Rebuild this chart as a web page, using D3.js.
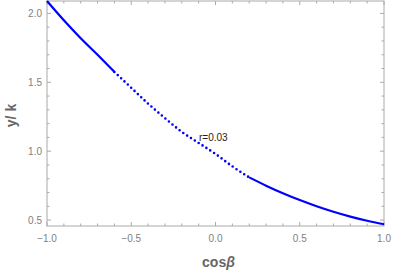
<!DOCTYPE html>
<html>
<head>
<meta charset="utf-8">
<script src="https://cdn.jsdelivr.net/npm/d3@7"></script>
<style>
  body { margin: 0; background: #fff; }
  text { font-family: "Liberation Sans", Arial, sans-serif; }
</style>
</head>
<body>
<div id="chart"></div>
<script>
const width = 394;
const height = 273;

// values
const cosBeta = [-1.0, -0.9, -0.8, -0.7, -0.6, -0.5, -0.4, -0.3, -0.2, -0.1, 0.0,
                 0.1, 0.2, 0.3, 0.4, 0.5, 0.6, 0.7, 0.8, 0.9, 1.0];
const yOverK = [2.09, 1.95, 1.82, 1.70, 1.575, 1.46, 1.345, 1.24, 1.14, 1.06, 0.98,
                0.89, 0.81, 0.75, 0.695, 0.645, 0.60, 0.56, 0.525, 0.495, 0.47];
const dottedFrom = -0.6;
const dottedTo = 0.2;
const xTicks = [-1.0, -0.5, 0.0, 0.5, 1.0];
const yTicks = [0.5, 1.0, 1.5, 2.0];
const label = "r=0.03";

const margin = {left: 47, right: 10, top: 1, bottom: 47};

const x = d3.scaleLinear().domain([-1, 1]).range([margin.left, width - margin.right]);
const y = d3.scaleLinear().domain([0.457, 2.09]).range([height - margin.bottom, margin.top]);

const svg = d3.select("#chart").append("svg")
  .attr("width", width)
  .attr("height", height);

const pts = cosBeta.map((c, i) => [c, yOverK[i]]);
const line = d3.line().x(d => x(d[0])).y(d => y(d[1])).curve(d3.curveMonotoneX);

const eps = 1e-9;
const seg1 = pts.filter(d => d[0] <= dottedFrom + eps);
const seg2 = pts.filter(d => d[0] >= dottedFrom - eps && d[0] <= dottedTo + eps);
const seg3 = pts.filter(d => d[0] >= dottedTo - eps);

const minorX = d3.range(-10, 11).map(i => i / 10);
const minorY = d3.range(5, 21).map(i => i / 10);
const isMajor = (v, arr) => arr.some(t => Math.abs(t - v) < 1e-9);

const x0 = x.range()[0], x1 = x.range()[1];
const y0 = y.range()[0], y1 = y.range()[1];
const frameColor = "#aaa";

// ticks (inward, on all sides)
const tg = svg.append("g").attr("stroke", frameColor).attr("stroke-width", 1);
minorX.forEach(v => {
  const len = isMajor(v, xTicks) ? 4 : 2.5;
  tg.append("line").attr("x1", x(v)).attr("x2", x(v)).attr("y1", y0).attr("y2", y0 - len);
  tg.append("line").attr("x1", x(v)).attr("x2", x(v)).attr("y1", y1).attr("y2", y1 + len);
});
minorY.forEach(v => {
  const len = isMajor(v, yTicks) ? 4 : 2.5;
  tg.append("line").attr("y1", y(v)).attr("y2", y(v)).attr("x1", x0).attr("x2", x0 + len);
  tg.append("line").attr("y1", y(v)).attr("y2", y(v)).attr("x1", x1).attr("x2", x1 - len);
});

svg.append("rect")
  .attr("x", x0).attr("y", y1)
  .attr("width", x1 - x0).attr("height", y0 - y1)
  .attr("fill", "none").attr("stroke", frameColor).attr("stroke-width", 1);

// tick labels
const fmt = v => (v < 0 ? "\u2212" : "") + Math.abs(v).toFixed(1);
svg.append("g").selectAll("text").data(xTicks).enter().append("text")
  .attr("x", d => x(d)).attr("y", y0 + 16)
  .attr("text-anchor", "middle").attr("font-size", 10).attr("fill", "#808080")
  .text(fmt);
svg.append("g").selectAll("text").data(yTicks).enter().append("text")
  .attr("x", x0 - 5).attr("y", d => y(d) + 3.5)
  .attr("text-anchor", "end").attr("font-size", 10).attr("fill", "#808080")
  .text(fmt);

// curve
const cg = svg.append("g").attr("fill", "none").attr("stroke", "#0000ff");
cg.append("path").attr("d", line(seg1)).attr("stroke-width", 2.2);
cg.append("path").attr("d", line(seg2)).attr("stroke-width", 2.6)
  .attr("stroke-dasharray", "0 4.6").attr("stroke-linecap", "round");
cg.append("path").attr("d", line(seg3)).attr("stroke-width", 2.2);

svg.append("text")
  .attr("x", 199).attr("y", 141)
  .attr("font-size", 10).attr("fill", "#222")
  .text(label);

// axis titles
svg.append("text")
  .attr("transform", `translate(16, ${(y0 + y1) / 2 + 2}) rotate(-90)`)
  .attr("text-anchor", "middle").attr("font-size", 14).attr("font-weight", "bold").attr("fill", "#666")
  .text("y/ k");

const xt = svg.append("text")
  .attr("x", (x0 + x1) / 2 + 3).attr("y", height - 6)
  .attr("text-anchor", "middle").attr("font-size", 14).attr("font-weight", "bold").attr("fill", "#666");
xt.append("tspan").text("cos");
xt.append("tspan").attr("font-style", "italic").text("\u03B2");
</script>
</body>
</html>
